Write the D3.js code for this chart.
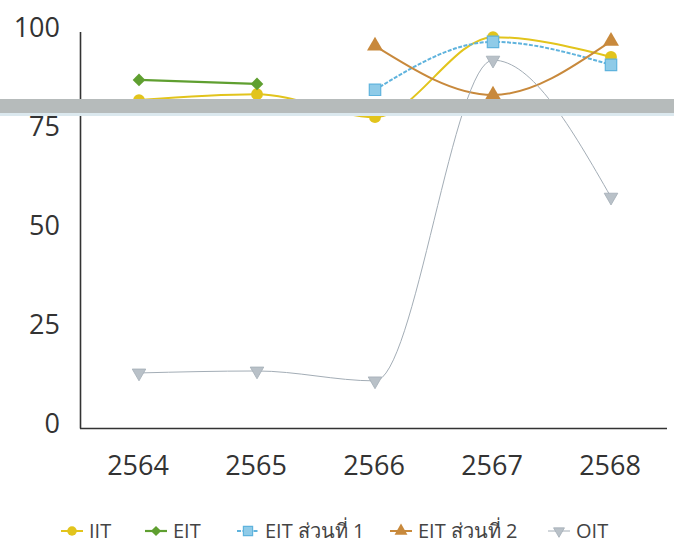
<!DOCTYPE html>
<html><head><meta charset="utf-8">
<script src="https://cdn.jsdelivr.net/npm/d3@7"></script>
<style>body{margin:0;background:#fff}svg{display:block}</style>
</head><body>
<svg id="c" width="674" height="543"></svg>
<script>
const years = ["2564","2565","2566","2567","2568"];
const yTicks = [0,25,50,75,100];
const seriesNames = ["IIT","EIT","EIT ส่วนที่ 1","EIT ส่วนที่ 2","OIT"];
const iit  = [82.8, 84.3, 78.5, 98.7, 93.7];
const eit  = [87.9, 86.9, null, null, null];
const eit1 = [null, null, 85.4, 97.5, 91.7];
const eit2 = [null, null, 96.5, 84.1, 97.7];
const oit  = [13.9, 14.4, 11.9, 92.9, 58.3];

const styles = [
  {color:"#e2c41c", width:2, dash:null, shape:"circle"},
  {color:"#5f9f30", width:2.2, dash:null, shape:"diamond"},
  {color:"#5fb3dd", width:2, dash:"4,1.5", shape:"square"},
  {color:"#c8893c", width:2, dash:null, shape:"triangleUp"},
  {color:"#a3adb6", width:1, dash:null, shape:"triangleDown"}
];
const data = [iit, eit, eit1, eit2, oit];

const svg = d3.select("#c");
const font = "'Open Sans', 'Noto Sans', sans-serif";
const x = d3.scaleBand().domain(years).range([80, 670]);
const y = d3.scaleLinear().domain([0,100]).range([428, 32]);

// axes
svg.append("line").attr("x1",80.5).attr("x2",80.5).attr("y1",32).attr("y2",428.5).attr("stroke","#333").attr("stroke-width",1.6);
svg.append("line").attr("x1",80).attr("x2",667).attr("y1",428.5).attr("y2",428.5).attr("stroke","#333").attr("stroke-width",1.6);

const yAxis = d3.axisLeft(y).tickValues(yTicks).tickSize(0).tickPadding(0);
const gy = svg.append("g").attr("transform","translate(60,-4)").call(yAxis);
gy.select(".domain").remove();
gy.selectAll("text").attr("font-family",font).attr("font-size",27).attr("fill","#333");

const xAxis = d3.axisBottom(x).tickSize(0).tickPadding(0);
const gx = svg.append("g").attr("transform","translate(-1,456)").call(xAxis);
gx.select(".domain").remove();
gx.selectAll("text").attr("font-family",font).attr("font-size",27).attr("fill","#333");

const cx = d => x(d) + x.bandwidth()/2;
const shapeMap = {circle:d3.symbolCircle, diamond:d3.symbolSquare, square:d3.symbolSquare, triangleUp:d3.symbolTriangle, triangleDown:d3.symbolTriangle};

function marker(g, st, px, py, scale){
  const sizeMap = {circle:110, diamond:80, square:130, triangleUp:110, triangleDown:80};
  const sym = d3.symbol().type(shapeMap[st.shape]).size(sizeMap[st.shape]*scale);
  let rot = "";
  if (st.shape==="triangleDown") rot = " rotate(180)";
  if (st.shape==="diamond") rot = " rotate(45)";
  const m = g.append("path").attr("d", sym())
    .attr("transform", `translate(${px},${py})` + rot);
  if (st.shape==="square") {
    m.attr("fill","#8fcbe8").attr("stroke","#5fb3dd").attr("stroke-width",1.2);
  } else if (st.shape==="triangleDown") {
    m.attr("fill","#b9c1c8").attr("stroke","#a3adb6").attr("stroke-width",0.8);
  } else {
    m.attr("fill", st.color);
  }
}

const line = d3.line().defined(d=>d.v!==null).x(d=>cx(d.k)).y(d=>y(d.v)).curve(d3.curveMonotoneX);

data.forEach((arr,i)=>{
  const st = styles[i];
  const pts = years.map((k,j)=>({k, v:arr[j]}));
  const g = svg.append("g");
  g.append("path").datum(pts).attr("d", line).attr("fill","none")
    .attr("stroke", st.color).attr("stroke-width", st.width)
    .attr("stroke-dasharray", st.dash);
  pts.filter(d=>d.v!==null).forEach(d=>marker(g, st, cx(d.k), y(d.v), 1));
});

// scan band artifact
svg.append("rect").attr("x",0).attr("y",99).attr("width",674).attr("height",14).attr("fill","#b6bbbb");
svg.append("rect").attr("x",0).attr("y",113).attr("width",674).attr("height",3).attr("fill","#dbe8ee");

// legend
const legX = [72, 156, 248, 401, 559];
const lg = svg.append("g");
seriesNames.forEach((n,i)=>{
  const st = styles[i];
  const g = lg.append("g");
  g.append("line").attr("x1",legX[i]-11).attr("x2",legX[i]+11).attr("y1",531).attr("y2",531)
    .attr("stroke",st.color).attr("stroke-width",st.width).attr("stroke-dasharray",st.dash);
  marker(g, st, legX[i], 531, 0.65);
  g.append("text").attr("x",legX[i]+17).attr("y",538).text(n)
    .attr("font-family",font).attr("font-size",20).attr("fill","#444");
});
</script>
</body></html>
